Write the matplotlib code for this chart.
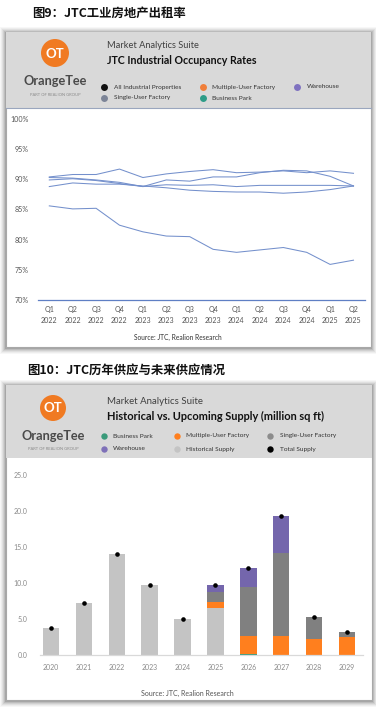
import matplotlib
matplotlib.use('Agg')
import matplotlib.pyplot as plt
from matplotlib.patches import Rectangle, Circle

# ---------------- data ----------------
quarters = ['Q1\n2022', 'Q2\n2022', 'Q3\n2022', 'Q4\n2022',
            'Q1\n2023', 'Q2\n2023', 'Q3\n2023', 'Q4\n2023',
            'Q1\n2024', 'Q2\n2024', 'Q3\n2024', 'Q4\n2024',
            'Q1\n2025', 'Q2\n2025']
all_industrial = [89.9, 90.1, 89.8, 89.3, 88.8, 89.1, 89.0, 89.1, 88.8, 89.0, 89.0, 89.0, 89.0, 88.9]
single_user = [90.3, 90.2, 89.9, 89.5, 88.8, 89.9, 89.7, 90.4, 90.4, 91.1, 91.5, 91.4, 90.5, 88.9]
multiple_user = [88.8, 89.4, 89.2, 89.2, 88.9, 88.6, 88.2, 88.0, 87.9, 87.9, 87.7, 87.9, 88.3, 88.9]
warehouse_occ = [90.4, 90.8, 90.8, 91.7, 90.3, 90.9, 91.3, 91.6, 91.1, 91.2, 91.4, 91.1, 91.4, 91.0]
business_park_occ = [85.6, 85.1, 85.2, 82.4, 81.3, 80.6, 80.5, 78.4, 77.9, 78.3, 78.7, 77.9, 75.9, 76.6]
occ_ticks = [70, 75, 80, 85, 90, 95, 100]

years = ['2020', '2021', '2022', '2023', '2024', '2025', '2026', '2027', '2028', '2029']
historical = [3.8, 7.2, 14.1, 9.7, 5.0, 6.6, 0, 0, 0, 0]
bp_supply = [0, 0, 0, 0, 0, 0, 0.2, 0, 0, 0]
muf_supply = [0, 0, 0, 0, 0, 0.8, 2.5, 2.6, 2.2, 2.5]
suf_supply = [0, 0, 0, 0, 0, 1.4, 6.7, 11.6, 3.1, 0.7]
wh_supply = [0, 0, 0, 0, 0, 0.9, 2.7, 5.2, 0, 0]
total_supply = [3.8, 7.2, 14.1, 9.7, 5.0, 9.7, 12.1, 19.4, 5.3, 3.2]
supply_ticks = [0, 5, 10, 15, 20, 25]

# ---------------- figure ----------------
W, H = 376, 708
fig = plt.figure(figsize=(W / 100, H / 100), dpi=100)
fig.patch.set_facecolor('white')
bg = fig.add_axes([0, 0, 1, 1])
bg.set_xlim(0, W)
bg.set_ylim(H, 0)
bg.axis('off')

CJK = ['Noto Sans CJK SC', 'DejaVu Sans']
UI = ['Lato', 'DejaVu Sans']


def px_axes(l, t, r, b):
    return fig.add_axes([l / W, 1 - b / H, (r - l) / W, (b - t) / H])


def card(x0, y0, x1, y1, hy, sep=False):
    for d, a in [(6, 0.03), (5, 0.04), (4, 0.05), (3, 0.07), (2, 0.09), (1, 0.12)]:
        bg.add_patch(Rectangle((x0 - d, y0 - d + 1), x1 - x0 + 2 * d, y1 - y0 + 2 * d,
                               facecolor='black', alpha=a, edgecolor='none', zorder=0))
    bg.add_patch(Rectangle((x0, y0), x1 - x0, y1 - y0, facecolor='white',
                           edgecolor='#A8A8A8', lw=0.8, zorder=1))
    bg.add_patch(Rectangle((x0, y0), x1 - x0, hy - y0, facecolor='#D9D9D9',
                           edgecolor='none', zorder=1.5))
    if sep:
        bg.plot([x0, x1], [hy, hy], color='#9AA6BE', lw=0.8, zorder=2)


def logo(cx, cy, r, ty, gy):
    bg.add_patch(Circle((cx, cy), r, facecolor='#F07A22', edgecolor='none', zorder=3))
    bg.text(cx, cy + 0.5, 'OT', color='white', fontsize=9.5, fontweight='bold',
            ha='center', va='center', family=UI, zorder=4)
    bg.text(cx, ty, 'OrangeTee', color='#4A4A4A', fontsize=9.2, fontweight='bold',
            ha='center', va='center', family=UI, zorder=4)
    bg.text(cx, gy, 'PART OF REALION GROUP', color='#8A8A8A', fontsize=3.0,
            ha='center', va='center', family=UI, zorder=4)


def legend_item(x, y, color, label, ms=5.0, fs=4.65):
    bg.plot([x], [y], 'o', color=color, ms=ms, mec='none', zorder=4)
    bg.text(x + 9.5, y, label, fontsize=fs, color='#333333', ha='left', va='center',
            family=UI, zorder=4)


# ---------------- Section 1 ----------------
bg.text(32, 13, '图9：JTC工业房地产出租率', fontsize=8.9, fontweight='bold',
        family=CJK, ha='left', va='center', color='#111111')
card(6, 32, 371, 347, 108, sep=True)
logo(55, 53, 14, 81, 95)
bg.text(107, 46, 'Market Analytics Suite', fontsize=6.7, color='#404040',
        ha='left', va='center', family=UI, zorder=4)
bg.text(107, 60, 'JTC Industrial Occupancy Rates', fontsize=7.7, fontweight='bold',
        color='#111111', ha='left', va='center', family=UI, zorder=4)
legend_item(104, 87, '#111111', 'All Industrial Properties')
legend_item(203, 87, '#F07F3A', 'Multiple-User Factory')
legend_item(297, 87, '#7F72C0', 'Warehouse')
legend_item(104, 98, '#7C8497', 'Single-User Factory')
legend_item(203, 98, '#2E9C88', 'Business Park')

ax1 = px_axes(37.6, 119, 365.2, 300)
ax1.set_facecolor('none')
line_col = '#7490CC'
xs = list(range(len(quarters)))
for series in [warehouse_occ, single_user, all_industrial, multiple_user, business_park_occ]:
    ax1.plot(xs, series, color=line_col, lw=0.75)
ax1.set_xlim(-0.5, len(quarters) - 0.5)
ax1.set_ylim(70, 100)
ax1.set_yticks(occ_ticks)
ax1.set_yticklabels([f'{v}%' for v in occ_ticks])
ax1.set_xticks(xs)
ax1.set_xticklabels(quarters, linespacing=1.75)
for s in ['top', 'right', 'left']:
    ax1.spines[s].set_visible(False)
ax1.spines['bottom'].set_color('#5F7FC4')
ax1.spines['bottom'].set_linewidth(0.9)
ax1.tick_params(length=0, labelsize=5.1, colors='#555555')
ax1.tick_params(axis='y', pad=6.3)
ax1.tick_params(axis='x', pad=4)
for t in ax1.get_xticklabels() + ax1.get_yticklabels():
    t.set_family(UI)
bg.text(178, 337, 'Source: JTC, Realion Research', fontsize=4.8, color='#333333',
        ha='center', va='center', family=UI, zorder=4)

# ---------------- Section 2 ----------------
bg.text(27, 370, '图10：JTC历年供应与未来供应情况', fontsize=8.9, fontweight='bold',
        family=CJK, ha='left', va='center', color='#111111')
card(6, 385, 372, 700, 458)
logo(53, 408, 13, 436, 449)
bg.text(107, 402, 'Market Analytics Suite', fontsize=6.9, color='#404040',
        ha='left', va='center', family=UI, zorder=4)
bg.text(107, 416, 'Historical vs. Upcoming Supply (million sq ft)', fontsize=7.9,
        fontweight='bold', color='#111111', ha='left', va='center', family=UI, zorder=4)

c_hist = '#C4C4C4'
c_bp = '#3A9A7A'
c_muf = '#FF7F1E'
c_suf = '#808080'
c_wh = '#7466AC'
legend_item(103.5, 436, c_bp, 'Business Park', ms=4.6)
legend_item(177, 436, c_muf, 'Multiple-User Factory', ms=4.6)
legend_item(270, 436, '#8C8C8C', 'Single-User Factory', ms=4.6)
legend_item(103.5, 449, '#7E70B8', 'Warehouse', ms=4.6)
legend_item(177, 449, c_hist, 'Historical Supply', ms=4.6)
legend_item(270, 449, '#000000', 'Total Supply', ms=4.6)

ax2 = px_axes(40, 475.4, 363, 655)
ax2.set_facecolor('none')
xb = list(range(len(years)))
bw = 0.5
bottom = [0.0] * len(years)
for vals, col in [(historical, c_hist), (bp_supply, c_bp), (muf_supply, c_muf),
                  (suf_supply, c_suf), (wh_supply, c_wh)]:
    ax2.bar(xb, vals, width=bw, bottom=bottom, color=col, edgecolor='none', zorder=2)
    bottom = [b + v for b, v in zip(bottom, vals)]
ax2.plot(xb, total_supply, 'o', color='black', ms=3.3, mec='none', zorder=4)
ax2.set_xlim(-0.334, 9.486)
ax2.set_ylim(0, 25)
ax2.set_yticks(supply_ticks)
ax2.set_yticklabels([f'{v:.1f}' for v in supply_ticks])
ax2.set_xticks(xb)
ax2.set_xticklabels(years)
for s in ['top', 'right', 'left']:
    ax2.spines[s].set_visible(False)
ax2.spines['bottom'].set_color('#D9D9D9')
ax2.spines['bottom'].set_linewidth(0.9)
ax2.tick_params(length=0, labelsize=5.0, colors='#8A8A8A')
ax2.tick_params(axis='y', pad=8.8)
ax2.tick_params(axis='x', pad=6.5)
for t in ax2.get_xticklabels() + ax2.get_yticklabels():
    t.set_family(UI)
bg.text(187, 693, 'Source: JTC, Realion Research', fontsize=5.0, color='#555555',
        ha='center', va='center', family=UI, zorder=4)

fig.savefig('out.png', dpi=100, facecolor='white')
